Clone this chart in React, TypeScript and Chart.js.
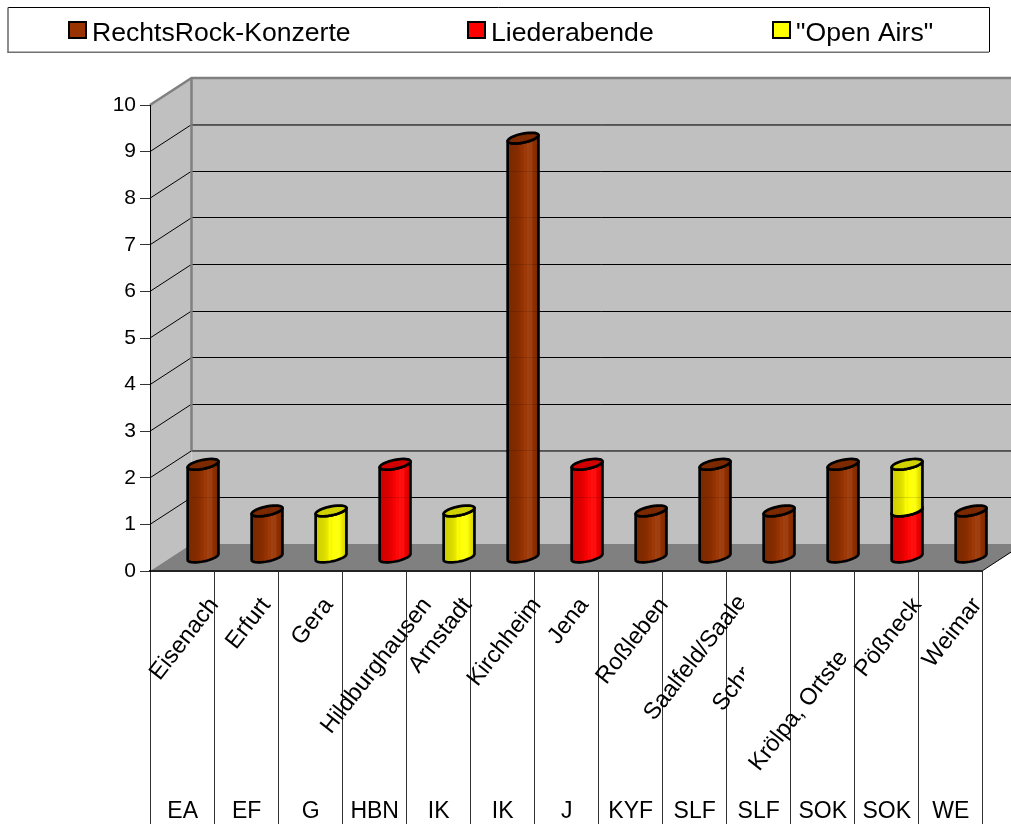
import React, { useEffect, useRef } from "react";
import { Chart, registerables } from "chart.js";

Chart.register(...registerables);

const places = ["Eisenach", "Erfurt", "Gera", "Hildburghausen", "Arnstadt", "Kirchheim", "Jena", "Roßleben", "Saalfeld/Saale", "Schr", "Krölpa, Ortste", "Pößneck", "Weimar"];
const districts = ["EA", "EF", "G", "HBN", "IK", "IK", "J", "KYF", "SLF", "SLF", "SOK", "SOK", "WE"];
const rockConcerts = [2, 1, 0, 0, 0, 9, 0, 1, 2, 1, 2, 0, 1];
const songEvenings = [0, 0, 0, 2, 0, 0, 2, 0, 0, 0, 0, 1, 0];
const openAirs = [0, 0, 1, 0, 1, 0, 0, 0, 0, 0, 0, 1, 0];
const seriesNames = ["RechtsRock-Konzerte", "Liederabende", "\"Open Airs\""];
const seriesColors = ["#993300", "#ff0000", "#ffff00"];

const FONT = '"Liberation Sans", Arial, sans-serif';
const DEPTH_X = 41.5;
const DEPTH_Y = 27;
const LEGEND_SWATCH_X = [69, 468, 773];
const ANGLE = (52 * Math.PI) / 180;
// labels cut off in the picture: length of the uncut label and where the cut falls
const CUT: Record<number, { len: number; clipX: number; dx: number }> = {
  8: { len: 148, clipX: 744, dx: -2 },
  9: { len: 136, clipX: 744, dx: -1 },
  10: { len: 212, clipX: 846, dx: -5 },
};

function rgb(hex: string) {
  return [1, 3, 5].map((i) => parseInt(hex.slice(i, i + 2), 16));
}
function tone(hex: string, k: number) {
  const c = rgb(hex).map((v) => (k <= 1 ? v * k : v + (255 - v) * (k - 1)));
  return `rgb(${c[0] | 0},${c[1] | 0},${c[2] | 0})`;
}
const BODY_STOPS: [number, number][] = [
  [0, 0.8], [0.28, 0.86], [0.4, 0.92], [0.46, 1.0], [0.5, 0.96], [0.56, 1.06], [0.6, 1.0], [0.66, 1.1],
  [0.7, 1.03], [0.76, 1.08], [0.82, 0.95], [0.9, 0.88], [1, 0.8],
];

function drawCylinder(ctx: CanvasRenderingContext2D, cx: number, top: number, base: number, width: number, color: string) {
  const a = width / 2 - 0.6;
  const b = 4.5;
  const slope = 0.19;
  const at = (yc: number, t: number): [number, number] => [cx + a * Math.cos(t), yc - slope * a * Math.cos(t) - b * Math.sin(t)];
  const arc = (yc: number, from: number, to: number, move = false) => {
    const n = 32;
    for (let i = 0; i <= n; i++) {
      const p = at(yc, from + ((to - from) * i) / n);
      if (i === 0 && move) ctx.moveTo(p[0], p[1]);
      else ctx.lineTo(p[0], p[1]);
    }
  };
  const g = ctx.createLinearGradient(cx - a, 0, cx + a, 0);
  BODY_STOPS.forEach(([o, k]) => g.addColorStop(o, tone(color, k)));
  ctx.lineWidth = 2.7;
  ctx.strokeStyle = "#000";
  ctx.lineJoin = "round";
  ctx.beginPath();
  arc(base, Math.PI, 2 * Math.PI, true);
  arc(top, 2 * Math.PI, Math.PI);
  ctx.closePath();
  ctx.fillStyle = g;
  ctx.fill();
  ctx.stroke();
  ctx.beginPath();
  arc(top, 0, 2 * Math.PI, true);
  ctx.closePath();
  ctx.fillStyle = tone(color, 0.82);
  ctx.fill();
  ctx.stroke();
}

const chart3d = {
  id: "chart3d",
  beforeDraw(chart: any) {
    const { ctx } = chart;
    const { x, y } = chart.scales;
    const left = x.left;
    const right = x.right;
    const y0 = y.getPixelForValue(0);
    const y10 = y.getPixelForValue(10);
    ctx.save();
    ctx.fillStyle = "#c0c0c0";
    ctx.fillRect(left + DEPTH_X, y10 - DEPTH_Y, right - left, y0 - y10);
    ctx.beginPath();
    ctx.moveTo(left, y10);
    ctx.lineTo(left + DEPTH_X, y10 - DEPTH_Y);
    ctx.lineTo(left + DEPTH_X, y0 - DEPTH_Y);
    ctx.lineTo(left, y0);
    ctx.closePath();
    ctx.fill();
    ctx.fillStyle = "#808080";
    ctx.beginPath();
    ctx.moveTo(left, y0);
    ctx.lineTo(left + DEPTH_X, y0 - DEPTH_Y);
    ctx.lineTo(right + DEPTH_X, y0 - DEPTH_Y);
    ctx.lineTo(right, y0);
    ctx.closePath();
    ctx.fill();
    // grid on the side and back walls
    ctx.strokeStyle = "#000";
    ctx.lineWidth = 1;
    for (let v = 1; v <= 9; v++) {
      const py = y.getPixelForValue(v);
      ctx.beginPath();
      ctx.moveTo(left, py);
      ctx.lineTo(left + DEPTH_X, py - DEPTH_Y);
      ctx.stroke();
      const back = v === 9 || v === 2 ? Math.round(py - DEPTH_Y) : Math.floor(py - DEPTH_Y) + 0.5;
      ctx.beginPath();
      ctx.moveTo(left + DEPTH_X, back);
      ctx.lineTo(right + DEPTH_X, back);
      ctx.stroke();
    }
    // grey frame
    ctx.strokeStyle = "#808080";
    ctx.lineWidth = 2.5;
    ctx.beginPath();
    ctx.moveTo(left + DEPTH_X, y.getPixelForValue(2) - DEPTH_Y);
    ctx.lineTo(left + DEPTH_X, y10 - DEPTH_Y);
    ctx.stroke();
    ctx.beginPath();
    ctx.moveTo(left, y10);
    ctx.lineTo(left + DEPTH_X, y10 - DEPTH_Y);
    ctx.lineTo(right + DEPTH_X, y10 - DEPTH_Y);
    ctx.stroke();
    // right corner of the floor
    ctx.strokeStyle = "#000";
    ctx.lineWidth = 1;
    ctx.beginPath();
    ctx.moveTo(right, y0);
    ctx.lineTo(right + DEPTH_X, y0 - DEPTH_Y);
    ctx.stroke();
    ctx.restore();
  },
  beforeDatasetsDraw(chart: any) {
    const { ctx } = chart;
    const { x, y } = chart.scales;
    const metas = chart.getSortedVisibleDatasetMetas();
    ctx.save();
    metas
      .slice()
      .sort((m1: any, m2: any) => m1.index - m2.index)
      .forEach((meta: any) => {
        meta.data.forEach((el: any) => {
          const p = el.getProps(["x", "y", "base", "width"], true);
          if (Math.abs(p.base - p.y) < 0.5) return;
          const o = el.options;
          drawCylinder(ctx, p.x + DEPTH_X / 2 + 0.3, p.y - DEPTH_Y / 2, p.base - DEPTH_Y / 2, p.width, o.backgroundColor);
        });
      });
    // back-wall grid faintly showing through the bars
    ctx.globalAlpha = 0.13;
    ctx.strokeStyle = "#000";
    ctx.lineWidth = 1;
    for (let v = 1; v <= 9; v++) {
      const py = Math.floor(y.getPixelForValue(v) - DEPTH_Y) + 0.5;
      ctx.beginPath();
      ctx.moveTo(x.left + DEPTH_X, py);
      ctx.lineTo(x.right + DEPTH_X, py);
      ctx.stroke();
    }
    ctx.restore();
    return false;
  },
  afterDraw(chart: any) {
    const { ctx } = chart;
    const { x } = chart.scales;
    ctx.save();
    // category labels, two levels
    ctx.fillStyle = "#000";
    ctx.font = `23.5px ${FONT}`;
    places.forEach((name, i) => {
      const cx = x.getPixelForValue(i);
      const cut = CUT[i];
      const w = cut ? cut.len : ctx.measureText(name).width;
      const endX = cx + (w / 2) * Math.cos(ANGLE) + 2.5 + (cut ? cut.dx : 0);
      const endY = 601;
      ctx.save();
      if (cut) {
        ctx.beginPath();
        ctx.rect(0, x.bottom - 253, cut.clipX, 253);
        ctx.clip();
        ctx.translate(endX - w * Math.cos(ANGLE), endY + w * Math.sin(ANGLE));
        ctx.textAlign = "left";
      } else {
        ctx.translate(endX, endY);
        ctx.textAlign = "right";
      }
      ctx.rotate(-ANGLE);
      ctx.textBaseline = "middle";
      ctx.fillText(name, 0, 0);
      ctx.restore();
    });
    ctx.font = `23px ${FONT}`;
    ctx.textAlign = "center";
    ctx.textBaseline = "alphabetic";
    districts.forEach((d, i) => ctx.fillText(d, x.getPixelForValue(i) + 0.7, 817.5));
    // legend
    ctx.strokeStyle = "#000";
    ctx.lineWidth = 1;
    ctx.beginPath();
    ctx.moveTo(8, 7.5);
    ctx.lineTo(989.5, 7.5);
    ctx.lineTo(989.5, 52);
    ctx.stroke();
    ctx.strokeStyle = "#707070";
    ctx.lineWidth = 1.6;
    ctx.beginPath();
    ctx.moveTo(989, 52.2);
    ctx.lineTo(8, 52.2);
    ctx.lineTo(8, 7.5);
    ctx.stroke();
    ctx.font = `26.6px ${FONT}`;
    ctx.textAlign = "left";
    chart.data.datasets.forEach((ds: any, i: number) => {
      const sx = LEGEND_SWATCH_X[i];
      ctx.fillStyle = ds.backgroundColor;
      ctx.fillRect(sx, 22, 17, 16);
      ctx.strokeStyle = "#000";
      ctx.lineWidth = 2;
      ctx.strokeRect(sx, 22, 17, 16);
      ctx.fillStyle = "#000";
      ctx.fillText(ds.label, sx + 23, 40.5);
    });
    ctx.restore();
  },
};

export default function App() {
  const ref = useRef<HTMLCanvasElement>(null);
  useEffect(() => {
    const chart = new Chart(ref.current as HTMLCanvasElement, {
      type: "bar",
      data: {
        labels: places,
        datasets: [rockConcerts, songEvenings, openAirs].map((data, i) => ({
          label: seriesNames[i],
          data,
          backgroundColor: seriesColors[i],
          borderColor: "#000",
          categoryPercentage: 1,
          barPercentage: 0.5,
        })),
      },
      options: {
        responsive: false,
        animation: false,
        layout: { padding: { top: 105, right: 29, left: 0, bottom: 0 } },
        plugins: { legend: { display: false }, title: { display: false }, tooltip: { enabled: false } },
        scales: {
          x: {
            stacked: true,
            offset: true,
            grid: { offset: true, drawOnChartArea: false, tickLength: 253, color: "#333" },
            border: { color: "#222", width: 2 },
            ticks: { display: false },
            afterFit(s: any) {
              s.height = 253;
            },
          },
          y: {
            stacked: true,
            min: 0,
            max: 10,
            ticks: { stepSize: 1, color: "#000", padding: 4, font: { family: "Liberation Sans", size: 21 } },
            grid: { drawOnChartArea: false, tickLength: 10, color: "#333" },
            border: { color: "#000", width: 1 },
            afterFit(s: any) {
              s.width = 150;
            },
          },
        },
      },
      plugins: [chart3d],
    } as any);
    return () => chart.destroy();
  }, []);
  return (
    <div style={{ position: "fixed", left: 0, top: 0, background: "#fff" }}>
      <canvas ref={ref} width={1011} height={824} style={{ display: "block" }} />
    </div>
  );
}
